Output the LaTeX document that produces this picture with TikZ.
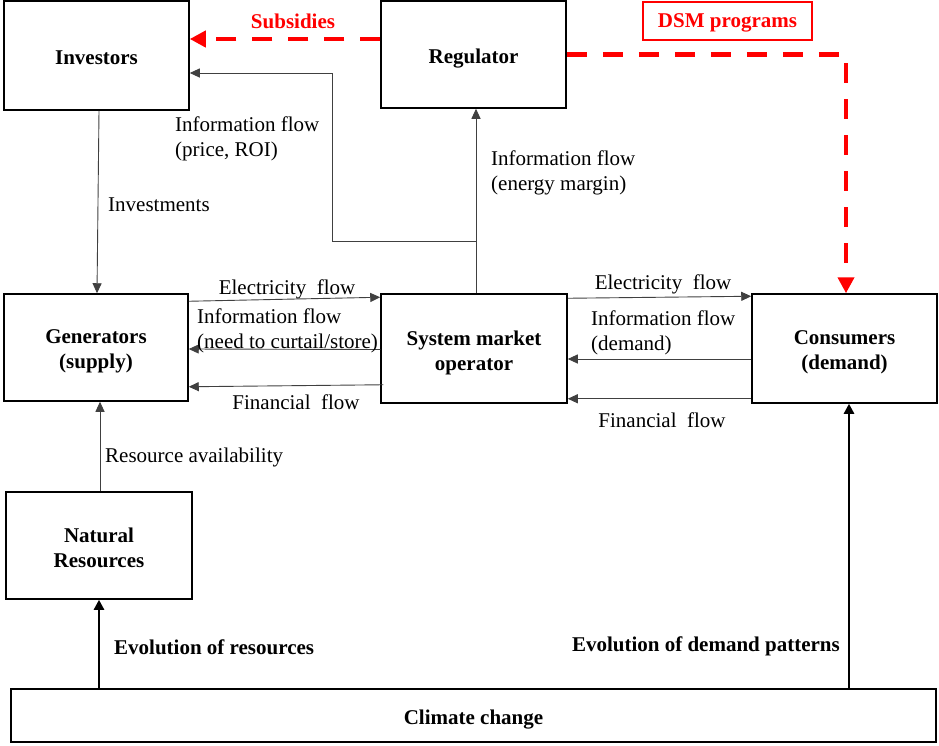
\documentclass[tikz,border=0pt]{standalone}
\usepackage{fontspec}
\setmainfont{Liberation Serif}
\usetikzlibrary{arrows.meta}

\tikzset{
  boxtext/.style={inner sep=0pt, align=center, text depth=0pt, yshift=-1.8pt,
    font=\fontsize{21}{25}\selectfont\bfseries},
  block/.style={draw=black, line width=1.5pt, fill=white, inner sep=0pt,
    label={[boxtext]center:#1}},
  flow/.style={draw=black!75, line width=0.9pt,
    -{Triangle[length=10pt,width=9pt]}},
  bigflow/.style={draw=black, line width=2.4pt,
    -{Triangle[length=10pt,width=10pt]}},
  policy/.style={draw=red, line width=4.5pt, dash pattern=on 20pt off 16pt,
    -{Triangle[length=16pt,width=16pt]}},
  lbl/.style={inner sep=0pt, align=left, font=\fontsize{21}{25}\selectfont},
  boldlbl/.style={inner sep=0pt, font=\fontsize{21}{25}\selectfont\bfseries},
}

\begin{document}
\begin{tikzpicture}[x=1pt, y=-1pt]
\useasboundingbox (0,0) rectangle (939,745);

% actors
\node[block={Investors}, minimum width=185pt, minimum height=109pt] (inv) at (96.5,55.5) {};
\node[block={Regulator}, minimum width=185pt, minimum height=107pt] (reg) at (473.5,54.5) {};
\node[block={Generators\\(supply)}, minimum width=184pt, minimum height=107pt] (gen) at (96,347.5) {};
\node[block={System market\\operator}, minimum width=186pt, minimum height=109pt] (smo) at (474,348.5) {};
\node[block={Consumers\\(demand)}, minimum width=185pt, minimum height=109pt] (con) at (844.5,348.5) {};
\node[block={Natural\\Resources}, minimum width=186pt, minimum height=107pt] (nat) at (99,545.5) {};
\node[block={Climate change}, minimum width=925pt, minimum height=53pt] (cli) at (473.5,715.5) {};

% policy instruments
\node[draw=red, line width=1.2pt, text=red, minimum width=169pt, minimum height=38pt,
  inner sep=0pt, text depth=0pt, font=\fontsize{21}{25}\selectfont\bfseries] (dsm) at (727.5,21) {DSM programs};
\node[boldlbl, text=red] (sub) at (293,21.5) {Subsidies};

\coordinate (s) at ([yshift=15.5pt]reg.west);
\draw[policy] (s) -- (s -| inv.east);
\draw[policy] (reg.east) -| ([xshift=1.5pt]con.north);

% information flows to regulator and investors
\coordinate (j) at (476,241);
\coordinate (k) at (332,73);
\draw[flow] (j |- smo.north) -- (j |- reg.south);
\draw[flow] (j) -| (k) -- (k -| inv.east);
\node[lbl, anchor=west] (roi) at (175,139) {Information flow\\(price, ROI)};
\node[lbl, anchor=west] (margin) at (491,173) {Information flow\\(energy margin)};

% investments
\draw[flow] ([xshift=2.5pt]inv.south) -- ([xshift=1pt]gen.north);
\node[lbl, anchor=west] (invl) at (108,205) {Investments};

% generators <-> system market operator
\draw[flow] ([yshift=-8pt]gen.north east) -- ([yshift=-4pt]smo.north west);
\draw[flow] ([yshift=-1pt]smo.west) -- ([yshift=-1.5pt]gen.east);
\draw[flow] ([xshift=3pt,yshift=19pt]smo.south west) -- ([yshift=15pt]gen.south east);
\node[lbl] (el1) at (287,289) {Electricity~ flow};
\node[lbl, anchor=west] (cur) at (197,331) {Information flow\\(need to curtail/store)};
\node[lbl] (fi1) at (296,402.5) {Financial~ flow};

% system market operator <-> consumers
\draw[flow] ([yshift=-5pt]smo.north east) -- ([yshift=-3pt]con.north west);
\draw[flow] ([yshift=-10.5pt]con.west) -- ([yshift=-10.5pt]smo.east);
\draw[flow] ([yshift=5pt]con.south west) -- ([yshift=5pt]smo.south east);
\node[lbl] (el2) at (663,284) {Electricity~ flow};
\node[lbl, anchor=west] (dem) at (591,333) {Information flow\\(demand)};
\node[lbl] (fi2) at (662,420.5) {Financial~ flow};

% resources
\draw[flow] ([xshift=1pt]nat.north) -- ([xshift=4pt]gen.south);
\node[lbl, anchor=west] (res) at (105,457) {Resource availability};

% climate change impacts
\draw[bigflow] (cli.north -| nat.south) -- (nat.south);
\coordinate (dp) at (849,689);
\draw[bigflow] (dp) -- (dp |- con.south);
\node[boldlbl, anchor=west] (evr) at (114,647.5) {Evolution of resources};
\node[boldlbl, anchor=east] (evd) at (840,646) {Evolution of demand patterns};
\end{tikzpicture}
\end{document}
